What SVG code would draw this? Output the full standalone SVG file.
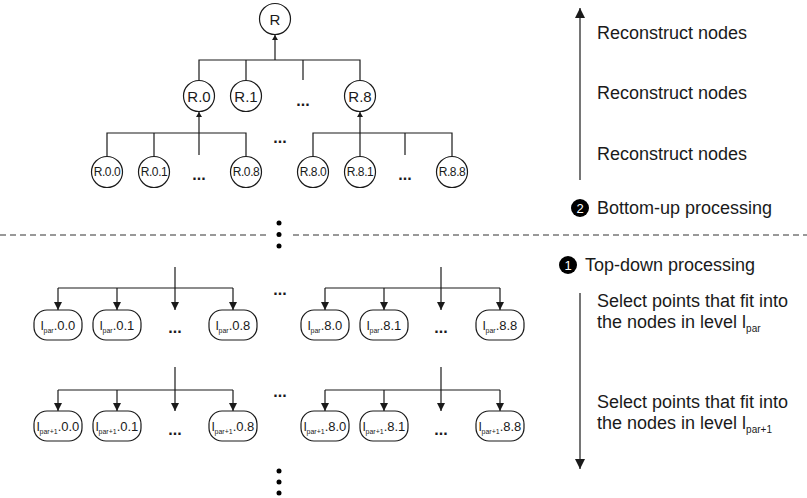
<svg xmlns="http://www.w3.org/2000/svg" width="807" height="498" viewBox="0 0 807 498">
<style>
  .ln{stroke:#1a1a1a;stroke-width:1.2;fill:none}
  .cn{fill:#fff;stroke:#1a1a1a;stroke-width:1.2}
  .bx{fill:#fff;stroke:#1a1a1a;stroke-width:1.2}
  .t{font-family:"Liberation Sans",Arial,sans-serif;fill:#1a1a1a}
  .c1{font-size:15px;text-anchor:middle}
  .c2{font-size:12px;text-anchor:middle;letter-spacing:-0.4px}
  .b{font-size:13px;text-anchor:middle}
  .sub{font-size:7px}
  .lbl{font-size:18px}
  .lsub{font-size:10px}
  .dots{font-size:16px;text-anchor:middle;font-weight:bold}
  .num{font-family:"Liberation Sans",Arial,sans-serif;font-size:13px;fill:#fff;text-anchor:middle}
</style>
<defs>
  <marker id="as" markerUnits="userSpaceOnUse" markerWidth="6" markerHeight="6" refX="5" refY="3" orient="auto">
    <path d="M0,0 L5,3 L0,6 Z" fill="#1a1a1a"/>
  </marker>
  <marker id="ad" markerUnits="userSpaceOnUse" markerWidth="9" markerHeight="8" refX="8" refY="4" orient="auto">
    <path d="M0,0 L8,4 L0,8 Z" fill="#1a1a1a"/>
  </marker>
  <marker id="ab" markerUnits="userSpaceOnUse" markerWidth="11" markerHeight="10" refX="10" refY="5" orient="auto">
    <path d="M0,0 L10,5 L0,10 Z" fill="#1a1a1a"/>
  </marker>
</defs>

<g id="connectors">
  <line class="ln" x1="275" y1="60" x2="275" y2="35" marker-end="url(#as)"/>
  <polyline class="ln" points="199,81 199,60 360,60 360,81"/>
  <line class="ln" x1="246" y1="60" x2="246" y2="81"/>
  <line class="ln" x1="303" y1="60" x2="303" y2="80"/>
  <line class="ln" x1="199" y1="155" x2="199" y2="112" marker-end="url(#as)"/>
  <polyline class="ln" points="107,157 107,133 246,133 246,157"/>
  <line class="ln" x1="154" y1="133" x2="154" y2="157"/>
  <line class="ln" x1="360" y1="157" x2="360" y2="112" marker-end="url(#as)"/>
  <polyline class="ln" points="313,157 313,133 452,133 452,157"/>
  <line class="ln" x1="405" y1="133" x2="405" y2="155"/>
  <line class="ln" x1="175" y1="267" x2="175" y2="310" marker-end="url(#ad)"/>
  <line class="ln" x1="58" y1="288" x2="233" y2="288"/>
  <line class="ln" x1="58" y1="288" x2="58" y2="310" marker-end="url(#ad)"/>
  <line class="ln" x1="117" y1="288" x2="117" y2="310" marker-end="url(#ad)"/>
  <line class="ln" x1="233" y1="288" x2="233" y2="310" marker-end="url(#ad)"/>
  <line class="ln" x1="441" y1="267" x2="441" y2="310" marker-end="url(#ad)"/>
  <line class="ln" x1="325" y1="288" x2="500" y2="288"/>
  <line class="ln" x1="325" y1="288" x2="325" y2="310" marker-end="url(#ad)"/>
  <line class="ln" x1="384" y1="288" x2="384" y2="310" marker-end="url(#ad)"/>
  <line class="ln" x1="500" y1="288" x2="500" y2="310" marker-end="url(#ad)"/>
  <line class="ln" x1="175" y1="367" x2="175" y2="411" marker-end="url(#ad)"/>
  <line class="ln" x1="58" y1="390" x2="233" y2="390"/>
  <line class="ln" x1="58" y1="390" x2="58" y2="411" marker-end="url(#ad)"/>
  <line class="ln" x1="117" y1="390" x2="117" y2="411" marker-end="url(#ad)"/>
  <line class="ln" x1="233" y1="390" x2="233" y2="411" marker-end="url(#ad)"/>
  <line class="ln" x1="441" y1="367" x2="441" y2="411" marker-end="url(#ad)"/>
  <line class="ln" x1="325" y1="390" x2="500" y2="390"/>
  <line class="ln" x1="325" y1="390" x2="325" y2="411" marker-end="url(#ad)"/>
  <line class="ln" x1="384" y1="390" x2="384" y2="411" marker-end="url(#ad)"/>
  <line class="ln" x1="500" y1="390" x2="500" y2="411" marker-end="url(#ad)"/>
  <line class="ln" x1="580" y1="180" x2="580" y2="8" marker-end="url(#ab)"/>
  <line class="ln" x1="580" y1="293" x2="580" y2="469" marker-end="url(#ab)"/>
</g>

<g id="separator">
  <line x1="0" y1="235" x2="266" y2="235" stroke="#333" stroke-width="1" stroke-dasharray="6,4"/>
  <line x1="293" y1="235" x2="807" y2="235" stroke="#333" stroke-width="1" stroke-dasharray="6,4"/>
  <circle cx="279" cy="223" r="2.5" fill="#000"/>
  <circle cx="279" cy="234.5" r="2.5" fill="#000"/>
  <circle cx="279" cy="246" r="2.5" fill="#000"/>
  <circle cx="279" cy="471" r="2.5" fill="#000"/>
  <circle cx="279" cy="482" r="2.5" fill="#000"/>
  <circle cx="279" cy="493" r="2.5" fill="#000"/>
</g>

<g id="node-R"><circle class="cn" cx="275" cy="19" r="15.5"/><text class="t c1" x="275" y="24.5">R</text></g>
<g id="node-R0"><circle class="cn" cx="199" cy="96" r="15.5"/><text class="t c1" x="199" y="101.5">R.0</text></g>
<g id="node-R1"><circle class="cn" cx="246" cy="96" r="15.5"/><text class="t c1" x="246" y="101.5">R.1</text></g>
<g id="node-R8"><circle class="cn" cx="360" cy="96" r="15.5"/><text class="t c1" x="360" y="101.5">R.8</text></g>
<g id="node-R00"><circle class="cn" cx="107" cy="172" r="15.5"/><text class="t c2" x="107" y="176">R.0.0</text></g>
<g id="node-R01"><circle class="cn" cx="154" cy="172" r="15.5"/><text class="t c2" x="154" y="176">R.0.1</text></g>
<g id="node-R08"><circle class="cn" cx="246" cy="172" r="15.5"/><text class="t c2" x="246" y="176">R.0.8</text></g>
<g id="node-R80"><circle class="cn" cx="313" cy="172" r="15.5"/><text class="t c2" x="313" y="176">R.8.0</text></g>
<g id="node-R81"><circle class="cn" cx="360" cy="172" r="15.5"/><text class="t c2" x="360" y="176">R.8.1</text></g>
<g id="node-R88"><circle class="cn" cx="452" cy="172" r="15.5"/><text class="t c2" x="452" y="176">R.8.8</text></g>

<g id="ellipses" class="t dots">
  <text x="303" y="106">...</text>
  <text x="280" y="143">...</text>
  <text x="199" y="180">...</text>
  <text x="405" y="180">...</text>
  <text x="280" y="295">...</text>
  <text x="175" y="333">...</text>
  <text x="441" y="333">...</text>
  <text x="280" y="397">...</text>
  <text x="175" y="435">...</text>
  <text x="441" y="435">...</text>
</g>

<g id="node-lp00"><rect class="bx" x="34" y="310" width="48" height="30" rx="13"/><text class="t b" x="58" y="330">l<tspan class="sub" dy="3">par</tspan><tspan dy="-3">.0.0</tspan></text></g>
<g id="node-lp01"><rect class="bx" x="93" y="310" width="48" height="30" rx="13"/><text class="t b" x="117" y="330">l<tspan class="sub" dy="3">par</tspan><tspan dy="-3">.0.1</tspan></text></g>
<g id="node-lp08"><rect class="bx" x="209" y="310" width="48" height="30" rx="13"/><text class="t b" x="233" y="330">l<tspan class="sub" dy="3">par</tspan><tspan dy="-3">.0.8</tspan></text></g>
<g id="node-lp80"><rect class="bx" x="301" y="310" width="48" height="30" rx="13"/><text class="t b" x="325" y="330">l<tspan class="sub" dy="3">par</tspan><tspan dy="-3">.8.0</tspan></text></g>
<g id="node-lp81"><rect class="bx" x="360" y="310" width="48" height="30" rx="13"/><text class="t b" x="384" y="330">l<tspan class="sub" dy="3">par</tspan><tspan dy="-3">.8.1</tspan></text></g>
<g id="node-lp88"><rect class="bx" x="476" y="310" width="48" height="30" rx="13"/><text class="t b" x="500" y="330">l<tspan class="sub" dy="3">par</tspan><tspan dy="-3">.8.8</tspan></text></g>

<g id="node-lq00"><rect class="bx" x="34" y="411" width="48" height="30" rx="13"/><text class="t b" x="58" y="431">l<tspan class="sub" dy="3">par+1</tspan><tspan dy="-3">.0.0</tspan></text></g>
<g id="node-lq01"><rect class="bx" x="93" y="411" width="48" height="30" rx="13"/><text class="t b" x="117" y="431">l<tspan class="sub" dy="3">par+1</tspan><tspan dy="-3">.0.1</tspan></text></g>
<g id="node-lq08"><rect class="bx" x="209" y="411" width="48" height="30" rx="13"/><text class="t b" x="233" y="431">l<tspan class="sub" dy="3">par+1</tspan><tspan dy="-3">.0.8</tspan></text></g>
<g id="node-lq80"><rect class="bx" x="301" y="411" width="48" height="30" rx="13"/><text class="t b" x="325" y="431">l<tspan class="sub" dy="3">par+1</tspan><tspan dy="-3">.8.0</tspan></text></g>
<g id="node-lq81"><rect class="bx" x="360" y="411" width="48" height="30" rx="13"/><text class="t b" x="384" y="431">l<tspan class="sub" dy="3">par+1</tspan><tspan dy="-3">.8.1</tspan></text></g>
<g id="node-lq88"><rect class="bx" x="476" y="411" width="48" height="30" rx="13"/><text class="t b" x="500" y="431">l<tspan class="sub" dy="3">par+1</tspan><tspan dy="-3">.8.8</tspan></text></g>

<g id="labels" class="t lbl">
  <text x="597" y="39">Reconstruct nodes</text>
  <text x="597" y="99">Reconstruct nodes</text>
  <text x="597" y="160">Reconstruct nodes</text>
  <text x="597" y="214">Bottom-up processing</text>
  <text x="585" y="271">Top-down processing</text>
  <text x="597" y="307">Select points that fit into</text>
  <text x="597" y="328">the nodes in level l<tspan class="lsub" dy="4">par</tspan></text>
  <text x="597" y="408">Select points that fit into</text>
  <text x="597" y="429">the nodes in level l<tspan class="lsub" dy="4">par+1</tspan></text>
</g>
<g id="step2"><circle cx="580" cy="208" r="9" fill="#000"/><text class="num" x="580" y="213">2</text></g>
<g id="step1"><circle cx="568" cy="265" r="9" fill="#000"/><text class="num" x="568" y="270">1</text></g>
</svg>
